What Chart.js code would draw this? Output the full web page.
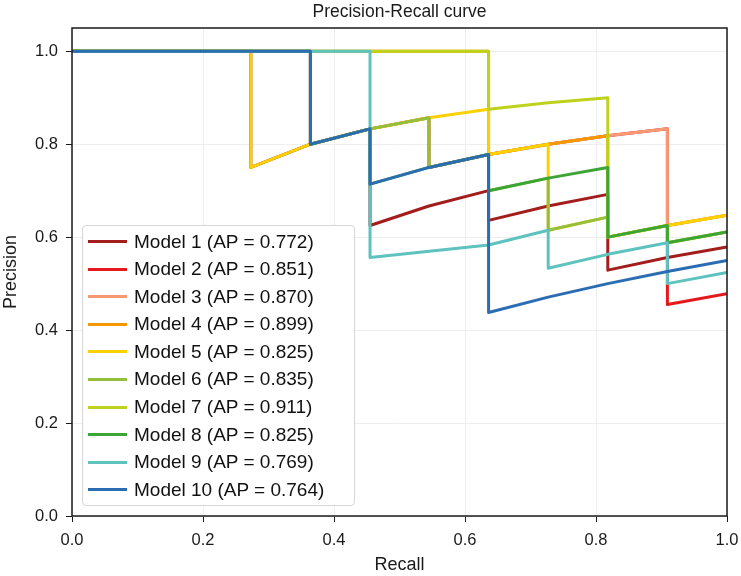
<!DOCTYPE html>
<html><head><meta charset="utf-8">
<script src="https://cdn.jsdelivr.net/npm/chart.js@4"></script>
<style>
html,body{margin:0;padding:0;background:#fff;}
#wrap{position:relative;width:741px;height:576px;}
#legend{position:absolute;left:82px;top:225px;width:271px;height:279px;border:1px solid #d6d6d6;border-radius:4px;background:rgba(255,255,255,0.9);font-family:"Liberation Sans",Arial,sans-serif;font-size:19px;color:#111;}
.item{position:absolute;left:0;height:22px;display:flex;align-items:center;white-space:nowrap;}
.swatch{width:39px;height:3px;margin-left:5px;margin-right:7px;}
</style></head>
<body><div id="wrap"><canvas id="c" width="741" height="576"></canvas><div id="legend"></div></div>
<script>
const modelNames = ["Model 1","Model 2","Model 3","Model 4","Model 5","Model 6","Model 7","Model 8","Model 9","Model 10"];
const apValues = ["0.772","0.851","0.870","0.899","0.825","0.835","0.911","0.825","0.769","0.764"];
const colors = ["#a31d1d","#e5191c","#f59a74","#f49800","#fdd000","#93bf3b","#bed21c","#3ca534","#5ec2bf","#2b6db2"];

const m1Recall = [0, 0.273, 0.273, 0.364, 0.455, 0.455, 0.545, 0.636, 0.636, 0.727, 0.818, 0.818, 0.909, 1.0];
const m1Precision = [1.0, 1.0, 0.75, 0.8, 0.833, 0.625, 0.667, 0.7, 0.636, 0.667, 0.692, 0.529, 0.556, 0.579];
const m2Recall = [0, 0.364, 0.364, 0.455, 0.545, 0.545, 0.636, 0.727, 0.818, 0.909, 0.909, 1.0];
const m2Precision = [1.0, 1.0, 0.8, 0.833, 0.857, 0.75, 0.778, 0.8, 0.818, 0.833, 0.455, 0.478];
const m3Recall = [0, 0.364, 0.364, 0.455, 0.545, 0.545, 0.636, 0.727, 0.818, 0.909, 0.909, 1.0];
const m3Precision = [1.0, 1.0, 0.8, 0.833, 0.857, 0.75, 0.778, 0.8, 0.818, 0.833, 0.625, 0.647];
const m4Recall = [0, 0.636, 0.636, 0.727, 0.818, 0.818, 0.909, 1.0];
const m4Precision = [1.0, 1.0, 0.778, 0.8, 0.818, 0.6, 0.625, 0.647];
const m5Recall = [0, 0.273, 0.273, 0.364, 0.455, 0.545, 0.636, 0.636, 0.727, 0.727, 0.818, 0.818, 0.909, 1.0];
const m5Precision = [1.0, 1.0, 0.75, 0.8, 0.833, 0.857, 0.875, 0.778, 0.8, 0.615, 0.643, 0.6, 0.625, 0.647];
const m6Recall = [0, 0.364, 0.364, 0.455, 0.545, 0.545, 0.636, 0.636, 0.727, 0.727, 0.818, 0.818, 0.909, 0.909, 1.0];
const m6Precision = [1.0, 1.0, 0.8, 0.833, 0.857, 0.75, 0.778, 0.7, 0.727, 0.615, 0.643, 0.6, 0.625, 0.588, 0.611];
const m7Recall = [0, 0.636, 0.636, 0.727, 0.818, 0.818, 0.909, 0.909, 1.0];
const m7Precision = [1.0, 1.0, 0.875, 0.889, 0.9, 0.6, 0.625, 0.588, 0.611];
const m8Recall = [0, 0.364, 0.364, 0.455, 0.455, 0.545, 0.636, 0.636, 0.727, 0.818, 0.818, 0.909, 0.909, 1.0];
const m8Precision = [1.0, 1.0, 0.8, 0.833, 0.714, 0.75, 0.778, 0.7, 0.727, 0.75, 0.6, 0.625, 0.588, 0.611];
const m9Recall = [0, 0.455, 0.455, 0.636, 0.727, 0.727, 0.818, 0.909, 0.909, 1.0];
const m9Precision = [1.0, 1.0, 0.556, 0.583, 0.615, 0.533, 0.563, 0.588, 0.5, 0.524];
const m10Recall = [0, 0.364, 0.364, 0.455, 0.455, 0.545, 0.636, 0.636, 0.727, 0.818, 0.909, 1.0];
const m10Precision = [1.0, 1.0, 0.8, 0.833, 0.714, 0.75, 0.778, 0.438, 0.471, 0.5, 0.526, 0.55];

const xTicks = [0.0, 0.2, 0.4, 0.6, 0.8, 1.0];
const yTicks = [0.0, 0.2, 0.4, 0.6, 0.8, 1.0];

const recalls = [m1Recall, m2Recall, m3Recall, m4Recall, m5Recall, m6Recall, m7Recall, m8Recall, m9Recall, m10Recall];
const precisions = [m1Precision, m2Precision, m3Precision, m4Precision, m5Precision, m6Precision, m7Precision, m8Precision, m9Precision, m10Precision];

const labels = modelNames.map((n, i) => n + " (AP = " + apValues[i] + ")");
const datasets = modelNames.map((n, i) => ({
  label: labels[i],
  data: recalls[i].map((r, k) => ({x: r, y: precisions[i][k]})),
  borderColor: colors[i],
  backgroundColor: colors[i],
  borderWidth: 3,
  pointRadius: 0,
  tension: 0,
  fill: false,
  showLine: true,
  borderJoinStyle: 'round',
  order: modelNames.length - 1 - i
}));

const frame = {
  id: 'frame',
  afterDatasetsDraw(chart) {
    const {ctx, chartArea: a} = chart;
    ctx.save();
    ctx.strokeStyle = '#1a1a1a';
    ctx.lineWidth = 1.5;
    ctx.strokeRect(a.left, a.top, a.right - a.left, a.bottom - a.top);
    ctx.restore();
  }
};

const FONT = '"Liberation Sans", Arial, sans-serif';

new Chart(document.getElementById('c'), {
  type: 'scatter',
  data: {datasets},
  options: {
    responsive: false,
    devicePixelRatio: 1,
    animation: false,
    layout: {padding: {left: 0, right: 14, top: 0, bottom: 0}},
    plugins: {
      legend: {display: false},
      tooltip: {enabled: false},
      title: {display: true, fullSize: false, text: 'Precision-Recall curve', color: '#1a1a1a',
        font: {family: FONT, size: 17.5, weight: 'normal'}, padding: {top: 1.5, bottom: 5.5}}
    },
    scales: {
      x: {
        type: 'linear', min: 0, max: 1,
        afterBuildTicks: s => { s.ticks = xTicks.map(v => ({value: v})); },
        afterFit: s => { s.height = 60; s.paddingLeft = 0; s.paddingRight = 0; },
        border: {display: false},
        grid: {color: '#eeeeee', tickColor: '#1a1a1a', tickLength: 6, lineWidth: 1},
        ticks: {color: '#1a1a1a', font: {family: FONT, size: 16.5}, padding: 9, maxRotation: 0,
          callback: v => Number(v).toFixed(1)},
        title: {display: true, text: 'Recall', color: '#1a1a1a', font: {family: FONT, size: 18}, padding: {top: 0, bottom: 0}}
      },
      y: {
        type: 'linear', min: 0, max: 1.05,
        afterBuildTicks: s => { s.ticks = yTicks.map(v => ({value: v})); },
        afterFit: s => { s.width = 72; s.paddingTop = 0; s.paddingBottom = 0; },
        border: {display: false},
        grid: {color: '#eeeeee', tickColor: '#1a1a1a', tickLength: 6, lineWidth: 1},
        ticks: {color: '#1a1a1a', font: {family: FONT, size: 16.5}, padding: 8,
          callback: v => Number(v).toFixed(1)},
        title: {display: true, text: 'Precision', color: '#1a1a1a', font: {family: FONT, size: 18}, padding: {top: 0, bottom: 0}}
      }
    }
  },
  plugins: [frame]
});

const leg = document.getElementById('legend');
labels.forEach((t, i) => {
  const row = document.createElement('div');
  row.className = 'item';
  row.style.top = (241.7 + 27.55 * i - 11 - 226) + 'px';
  const sw = document.createElement('span');
  sw.className = 'swatch';
  sw.style.background = colors[i];
  const tx = document.createElement('span');
  tx.textContent = t;
  row.appendChild(sw); row.appendChild(tx);
  leg.appendChild(row);
});
</script>
</body></html>
